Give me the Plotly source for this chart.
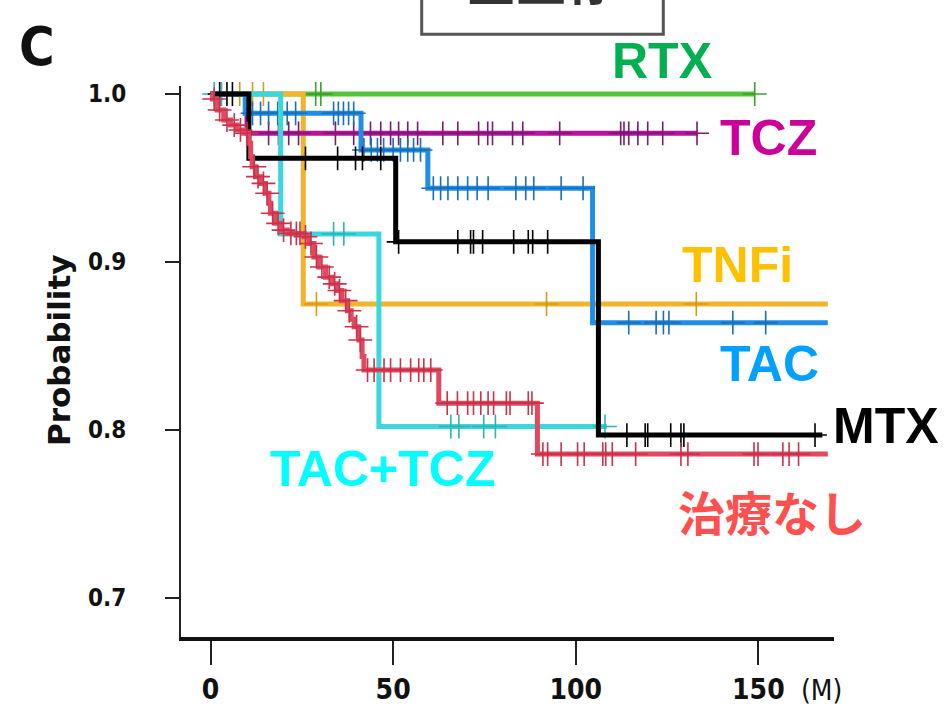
import bisect
import plotly.graph_objects as go

# ---------------- data ----------------
x_ticks = [0, 50, 100, 150]
x_tick_labels = ["0", "50", "100", "150"]
y_ticks = [0.7, 0.8, 0.9, 1.0]
y_tick_labels = ["0.7", "0.8", "0.9", "1.0"]

# RTX
rtx_times = [0]
rtx_surv = [1.0]
rtx_end = 149
rtx_cens = [28.8, 30.2, 149]

# TNFi
tnfi_times = [0, 25.4]
tnfi_surv = [1.0, 0.875]
tnfi_end = 169
tnfi_cens = [8, 11.5, 14.5, 29, 92, 133]

# TCZ
tcz_times = [0, 10]
tcz_surv = [1.0, 0.9766]
tcz_end = 133.3
tcz_cens = [15.9, 18.6, 21.4, 24.1, 34.2, 39.2, 43.8, 46.6, 49.3, 51.5, 54, 56.7,
            63.6, 67.7, 73.4, 75.9, 77.2, 82.7, 85.5, 95.6, 112.3, 113.2, 114.5,
            117, 119.7, 123.8, 133.2]

# TAC
tac_times = [0, 9.5, 41.2, 59.5, 104.6]
tac_surv = [1.0, 0.9885, 0.9667, 0.9439, 0.8639]
tac_end = 169
tac_cens = [11.5, 13.7, 15.9, 18.4, 21, 23.3, 33.7, 35, 36.4, 37.8, 39.2, 42, 44,
            45.7, 47.4, 50, 52, 54, 55.6, 57.5, 61, 63, 65, 67.7, 70.4, 73, 76,
            83.6, 86.3, 88.5, 96, 102, 114.5, 122, 124, 125.5, 143, 152]

# TAC+TCZ
tactcz_times = [0, 19.2, 46.1]
tactcz_surv = [1.0, 0.9167, 0.8021]
tactcz_end = 108.5
tactcz_cens = [1, 3, 33.7, 36.5, 65.8, 68, 74.8, 78, 108]

# MTX
mtx_times = [0, 10.5, 50.7, 106.2]
mtx_surv = [1.0, 0.9617, 0.912, 0.797]
mtx_end = 167.5
mtx_cens = [2.5, 4.5, 6, 26, 34.8, 39.7, 41.6, 46.6, 51.5, 67.7, 71.2, 72, 74.5,
            83, 87, 88.2, 92.3, 114, 119, 119.7, 126, 128.8, 129.6, 165.5]

# no treatment (治療なし)
none_times = [0, 0.5, 1.8, 3.6, 5.5, 7.3, 9.1, 10.5, 11.0, 11.4, 12.3, 13.7, 15.0,
              16.0, 16.4, 17.8, 19.2, 21.0, 25.6, 26.9, 28.3, 29.7, 31.5, 33.3,
              34.7, 36.0, 37.5, 38.5, 39.3, 40.6, 41.5, 42.0, 62.5, 89.5]
none_surv = [1.0, 0.997, 0.9905, 0.9845, 0.9815, 0.9786, 0.9766, 0.9707, 0.9627,
             0.9567, 0.9508, 0.9468, 0.9409, 0.9349, 0.929, 0.923, 0.919, 0.917,
             0.915, 0.911, 0.903, 0.897, 0.891, 0.887, 0.883, 0.877, 0.871, 0.866,
             0.8615, 0.8536, 0.8437, 0.8357, 0.816, 0.7857]
none_end = 169
none_cens = [1.0, 2.5, 4.5, 6.5, 8.2, 10, 12, 13, 14.5, 15.5, 17, 18.5, 20, 22,
             23.5, 24.5, 26, 27.5, 29, 30.5, 32.5, 34, 35.3, 37, 38, 40, 41,
             43, 44.8, 47.5, 49.3, 52, 54.8, 57, 58.4, 60.3, 64.8, 67.6, 70.4, 72,
             74, 76, 77.5, 81, 82, 87, 88, 91, 92.3, 96, 100.5, 102.3, 107.4,
             108.2, 110, 116.4, 128.8, 130.7, 148.8, 149.9, 156.7, 158.4, 161]

# ---------------- layout constants ----------------
W, H = 945, 709
ML, MR, MT, MB = 181, 111, 86, 72
PW, PH = W - ML - MR, H - MT - MB


def px(xp):
    return (xp - ML) / PW


def py(yp):
    return (H - MB - yp) / PH


series = [
    ("RTX", rtx_times, rtx_surv, rtx_end, rtx_cens, "#52c43a", "#3f9f2c"),
    ("TNFi", tnfi_times, tnfi_surv, tnfi_end, tnfi_cens, "#f3b32a", "#d59a1c"),
    ("TCZ", tcz_times, tcz_surv, tcz_end, tcz_cens, "#b8139f", "#7a1a70"),
    ("TAC", tac_times, tac_surv, tac_end, tac_cens, "#1f8ee6", "#1a6fb8"),
    ("TAC+TCZ", tactcz_times, tactcz_surv, tactcz_end, tactcz_cens, "#3ad8dc", "#2bb5b8"),
    ("MTX", mtx_times, mtx_surv, mtx_end, mtx_cens, "#000000", "#000000"),
    ("治療なし", none_times, none_surv, none_end, none_cens, "#e2485f", "#c8334a"),
]

fig = go.Figure()
for name, times, surv, end, cens, col, mcol in series:
    fig.add_trace(go.Scatter(
        x=times + [end], y=surv + [surv[-1]], mode="lines", name=name,
        line=dict(shape="hv", width=5, color=col), hoverinfo="skip",
        showlegend=False))
    cy = [surv[bisect.bisect_right(times, t) - 1] for t in cens]
    fig.add_trace(go.Scatter(
        x=cens, y=cy, mode="markers", name=name + " censored",
        marker=dict(symbol="cross-thin", size=17, color=mcol,
                    line=dict(width=1.6, color=mcol)),
        cliponaxis=False, showlegend=False, hoverinfo="skip"))

narrow = "Liberation Sans Narrow, Arial Narrow, DejaVu Sans Condensed, Liberation Sans, Arial"
bold_sans = "Liberation Sans, Arial, sans-serif"
cjk = "Noto Sans CJK JP, Noto Sans CJK SC, sans-serif"

fig.update_layout(
    width=W, height=H,
    margin=dict(l=ML, r=MR, t=MT, b=MB, pad=0),
    paper_bgcolor="white", plot_bgcolor="white",
    xaxis=dict(
        range=[-8.08, 170.7], tickvals=x_ticks, ticktext=x_tick_labels,
        automargin=False,
        showgrid=False, zeroline=False, showline=True, linewidth=4,
        linecolor="#111", ticks="outside", ticklen=24, tickwidth=2,
        tickcolor="#222", ticklabelstandoff=0,
        tickfont=dict(family=narrow, size=28, color="#111", weight="bold")),
    yaxis=dict(
        range=[0.6768, 1.00476], tickvals=y_ticks, ticktext=y_tick_labels,
        automargin=False,
        showgrid=False, zeroline=False, showline=True, linewidth=2,
        linecolor="#222", ticks="outside", ticklen=14, tickwidth=2,
        tickcolor="#222", ticklabelstandoff=34,
        tickfont=dict(family=narrow, size=24, color="#111", weight="bold")),
)

# top title box (cut off at top of picture)
fig.add_shape(type="rect", xref="paper", yref="paper",
              x0=px(421.7), x1=px(663.3), y0=py(34.3), y1=py(-10),
              line=dict(color="#555555", width=3), fillcolor="white", layer="above")

annos = [
    ("全生存", 541, -22, cjk, 50, "#333333", "bold", 0),
    ("C", 37, 47, narrow, 54, "#111111", "bold", 0),
    ("Probability", 59, 350, "DejaVu Sans, Liberation Sans", 31, "#111111", "bold", -90),
    ("(M)", 821, 690, narrow, 28, "#111111", "normal", 0),
    ("RTX", 661.7, 61.3, bold_sans, 50, "#00b050", "bold", 0),
    ("TCZ", 768, 138.3, bold_sans, 50, "#cc0099", "bold", 0),
    ("TNFi", 737.5, 265, bold_sans, 50, "#ffc000", "bold", 0),
    ("TAC", 769, 364, bold_sans, 50, "#00a0ff", "bold", 0),
    ("MTX", 886, 426, bold_sans, 50, "#000000", "bold", 0),
    ("TAC+TCZ", 382.5, 469, bold_sans, 50, "#00ffff", "bold", 0),
    ("治療なし", 771.5, 510, cjk, 47, "#ff5050", "bold", 0),
]
for text, xp, yp, fam, size, col, wt, ang in annos:
    fig.add_annotation(text=text, xref="paper", yref="paper", x=px(xp), y=py(yp),
                       xanchor="center", yanchor="middle", showarrow=False,
                       textangle=ang,
                       font=dict(family=fam, size=size, color=col, weight=wt))

fig.write_html("out.html", config={"displayModeBar": False},
               post_script="document.body.style.margin='0';document.body.style.overflow='hidden';")
